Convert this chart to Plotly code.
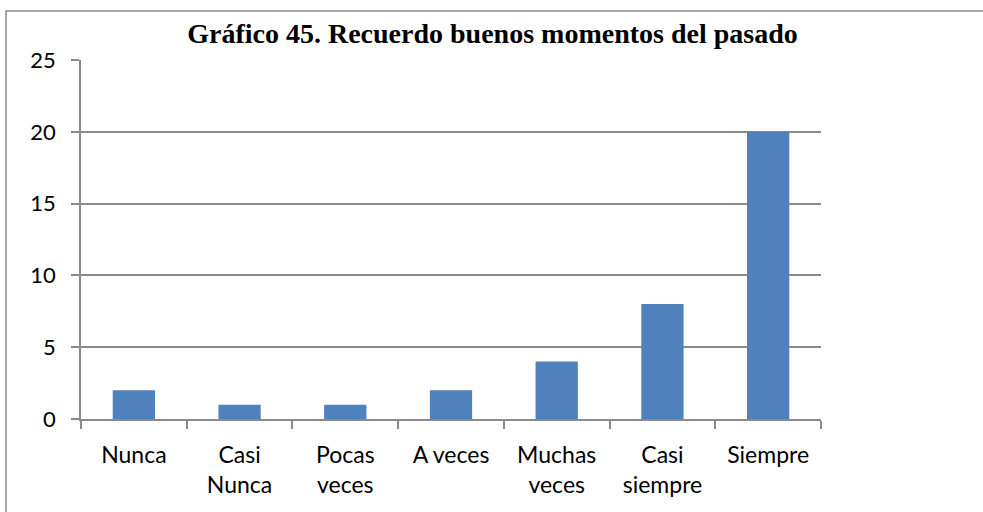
import plotly.graph_objects as go

# Survey responses: "Recuerdo buenos momentos del pasado"
categories = ["Nunca", "Casi<br>Nunca", "Pocas<br>veces", "A veces",
              "Muchas<br>veces", "Casi<br>siempre", "Siempre"]
counts = [2, 1, 1, 2, 4, 8, 20]
y_ticks = [0, 5, 10, 15, 20, 25]

BAR = "#4F81BD"
GRID = "#8a8a8a"
Y_FONT = dict(family="Lato, Open Sans, sans-serif", size=22, color="#000000")
X_FONT = dict(family="Lato, Open Sans, sans-serif", size=23, color="#000000")

fig = go.Figure(
    go.Bar(x=categories, y=counts, marker=dict(color=BAR, line=dict(width=0)))
)

W, H = 983, 512
L, R, T, B = 81, 162, 60, 93
pw, ph = W - L - R, H - T - B

fig.update_layout(
    width=W, height=H,
    margin=dict(l=L, r=R, t=T, b=B),
    paper_bgcolor="white", plot_bgcolor="white",
    bargap=0.6,
    showlegend=False,
    title=dict(
        text="<b>Gráfico 45. Recuerdo buenos momentos del pasado</b>",
        font=dict(family="Liberation Serif, Times New Roman, serif", size=28, color="#000000"),
        x=0.501, xref="container", xanchor="center",
        y=1 - 33 / H, yref="container", yanchor="middle",
    ),
    xaxis=dict(
        type="category",
        showline=True, linecolor=GRID, linewidth=1.5,
        ticks="outside", tickson="boundaries", ticklen=8, tickcolor=GRID, tickwidth=1.5,
        showgrid=False, tickfont=X_FONT, ticklabelstandoff=15,
    ),
    yaxis=dict(
        range=[0, 25], tickvals=y_ticks,
        showline=True, linecolor=GRID, linewidth=1.5,
        showgrid=True, gridcolor=GRID, gridwidth=1.5,
        ticks="outside", ticklen=8, tickcolor=GRID, tickwidth=1.5,
        tickfont=Y_FONT, ticklabelstandoff=11,
        zeroline=False,
    ),
    shapes=[
        # outer chart frame (continues past the right and bottom edges)
        dict(type="path", xref="paper", yref="paper",
             path=f"M {(6 - L) / pw} {-0.5} L {(6 - L) / pw} {1 + (T - 11) / ph} L 1.5 {1 + (T - 11) / ph}",
             line=dict(color=GRID, width=1.5)),
    ],
)

fig.write_html("out.html")
